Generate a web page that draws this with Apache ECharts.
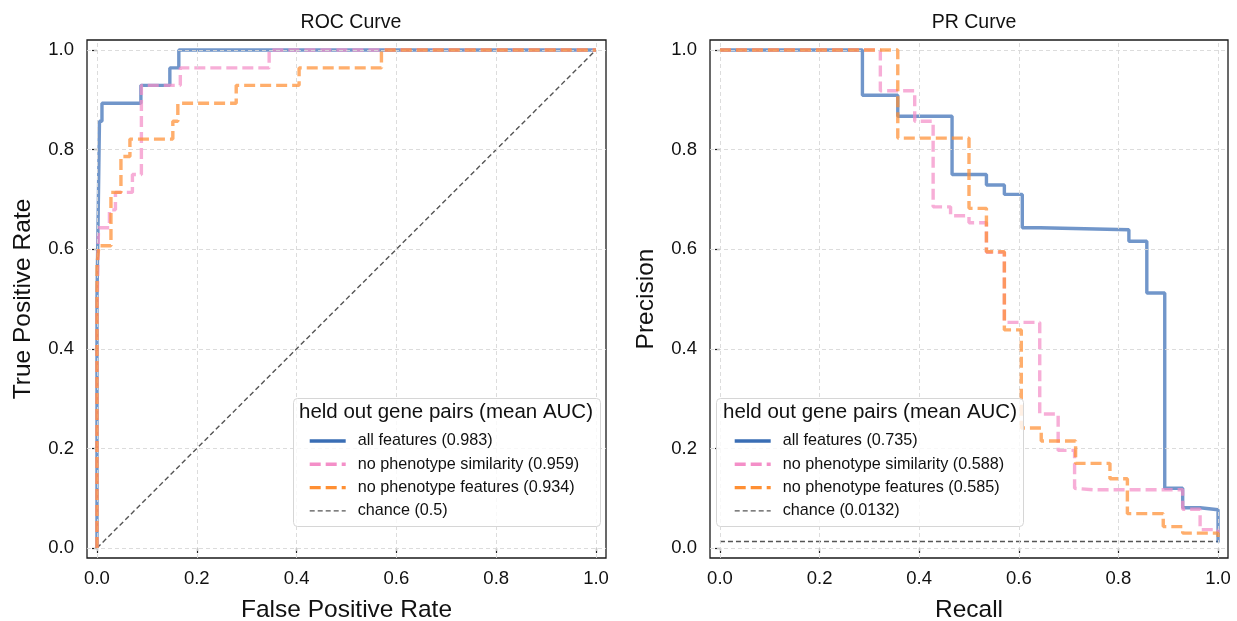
<!DOCTYPE html>
<html>
<head>
<meta charset="utf-8">
<script src="https://cdn.jsdelivr.net/npm/echarts@6/dist/echarts.min.js"></script>
<style>
  html, body { margin: 0; padding: 0; background: #fff; }
  #chart { width: 1237px; height: 621px; }
</style>
</head>
<body>
<div id="chart"></div>
<script>
// tick positions shared by both panels
const ticks = [0, 0.2, 0.4, 0.6, 0.8, 1.0];

// ROC curves (FPR, TPR)
const rocNames = [
  "all features (0.983)",
  "no phenotype similarity (0.959)",
  "no phenotype features (0.934)",
  "chance (0.5)",
];
const rocAll = [
  [0, 0], [0, 0.5], [0.002, 0.5], [0.002, 0.643], [0.005, 0.643], [0.005, 0.857],
  [0.01, 0.857], [0.01, 0.893], [0.088, 0.893], [0.088, 0.929], [0.146, 0.929],
  [0.146, 0.964], [0.164, 0.964], [0.164, 1.0], [1.0, 1.0],
];
const rocNoSim = [
  [0, 0], [0, 0.46], [0.003, 0.46], [0.003, 0.643], [0.025, 0.643], [0.025, 0.679],
  [0.037, 0.679], [0.037, 0.714], [0.071, 0.714], [0.071, 0.75], [0.089, 0.75],
  [0.089, 0.929], [0.167, 0.929], [0.167, 0.964], [0.345, 0.964], [0.345, 1.0], [1.0, 1.0],
];
const rocNoPheno = [
  [0, 0], [0, 0.57], [0.004, 0.57], [0.004, 0.607], [0.028, 0.607], [0.028, 0.714],
  [0.048, 0.714], [0.048, 0.786], [0.066, 0.786], [0.066, 0.821], [0.152, 0.821],
  [0.152, 0.857], [0.162, 0.857], [0.162, 0.893], [0.279, 0.893], [0.279, 0.929],
  [0.405, 0.929], [0.405, 0.964], [0.57, 0.964], [0.57, 1.0], [1.0, 1.0],
];
const rocChance = [[0, 0], [1, 1]];

// PR curves (recall, precision)
const prNames = [
  "all features (0.735)",
  "no phenotype similarity (0.588)",
  "no phenotype features (0.585)",
  "chance (0.0132)",
];
const prAll = [
  [0, 1], [0.286, 1], [0.286, 0.909], [0.357, 0.909], [0.357, 0.867], [0.466, 0.867],
  [0.466, 0.75], [0.535, 0.75], [0.535, 0.729], [0.571, 0.729], [0.571, 0.71],
  [0.607, 0.71], [0.607, 0.643], [0.643, 0.643], [0.643, 0.639], [0.821, 0.639],
  [0.821, 0.616], [0.857, 0.616], [0.857, 0.512], [0.893, 0.512], [0.893, 0.12],
  [0.929, 0.12], [0.929, 0.081], [0.964, 0.081], [0.964, 0.077], [1.0, 0.077], [1.0, 0.011],
];
const prNoSim = [
  [0, 1], [0.322, 1], [0.322, 0.918], [0.391, 0.918], [0.391, 0.857], [0.428, 0.857],
  [0.428, 0.685], [0.463, 0.685], [0.463, 0.667], [0.5, 0.667], [0.5, 0.653],
  [0.535, 0.653], [0.535, 0.594], [0.571, 0.594], [0.571, 0.453], [0.642, 0.453],
  [0.642, 0.269], [0.679, 0.269], [0.679, 0.196], [0.712, 0.196], [0.712, 0.12],
  [0.75, 0.117], [0.929, 0.117], [0.929, 0.078], [0.964, 0.078], [0.964, 0.037],
  [1.0, 0.037], [1.0, 0.03],
];
const prNoPheno = [
  [0, 1], [0.357, 1], [0.357, 0.823], [0.5, 0.823], [0.5, 0.682], [0.535, 0.682],
  [0.535, 0.595], [0.571, 0.595], [0.571, 0.438], [0.605, 0.438], [0.605, 0.241],
  [0.645, 0.241], [0.645, 0.215], [0.714, 0.215], [0.714, 0.17], [0.783, 0.17],
  [0.783, 0.139], [0.818, 0.139], [0.818, 0.069], [0.89, 0.069], [0.89, 0.043],
  [0.929, 0.043], [0.929, 0.03], [1.0, 0.03], [1.0, 0.022],
];
const prChance = [[0, 0.0132], [1, 0.0132]];

const colors = ["#3a6eb5", "#f48fc8", "#ff8f33", "#555555"];
const FONT = "Liberation Sans, Arial, Helvetica, sans-serif";
const DASH = [11, 5];
const CHANCE_DASH = [5, 3];

const Chart = echarts.init(document.getElementById("chart"));

const makeAxis = (gridIndex, name, nameGap, isY) => ({
  type: "value",
  gridIndex: gridIndex,
  min: -0.02,
  max: 1.02,
  name: name,
  nameLocation: "middle",
  nameGap: nameGap,
  nameTextStyle: { fontFamily: FONT, fontSize: 24.5, color: "#111" },
  axisLine: { show: false },
  axisTick: {
    show: true,
    inside: false,
    length: 5,
    customValues: ticks,
    lineStyle: { color: "#222", width: 1.2 },
  },
  axisLabel: {
    customValues: ticks,
    margin: isY ? 13 : 11,
    fontFamily: FONT,
    fontSize: 18.5,
    color: "#111",
    formatter: (v) => v.toFixed(1),
  },
  splitLine: { show: false },
});

// dashed grid lines drawn as markLines so they sit exactly on the ticks
const gridLines = (xi, yi) => ({
  type: "line",
  xAxisIndex: xi,
  yAxisIndex: yi,
  data: [],
  silent: true,
  z: 1,
  markLine: {
    silent: true,
    symbol: ["none", "none"],
    label: { show: false },
    lineStyle: { color: "#d8d8d8", type: [4, 3], width: 0.9 },
    data: ticks.map((t) => ({ xAxis: t })).concat(ticks.map((t) => ({ yAxis: t }))),
  },
});

const curve = (name, data, idx, xi, dashed) => ({
  name: name,
  type: "line",
  xAxisIndex: xi,
  yAxisIndex: xi,
  data: data,
  symbol: "none",
  clip: false,
  z: 3 + idx,
  lineStyle: {
    color: colors[idx],
    width: 3.4,
    opacity: 0.72,
    type: dashed ? DASH : "solid",
  },
  itemStyle: { color: colors[idx] },
});

const chanceLine = (name, data, xi) => ({
  name: name,
  type: "line",
  xAxisIndex: xi,
  yAxisIndex: xi,
  data: data,
  symbol: "none",
  z: 2,
  lineStyle: { color: colors[3], width: 1.4, type: CHANCE_DASH },
  itemStyle: { color: colors[3] },
});

// legend handles: opaque line, no marker
const legendData = (names) =>
  names.map((n, i) => ({
    name: n,
    lineStyle: {
      color: colors[i],
      opacity: 1,
      width: i === 3 ? 1.4 : 3.4,
      type: i === 0 ? "solid" : i === 3 ? CHANCE_DASH : DASH,
    },
    itemStyle: { opacity: 0 },
  }));

const legendBox = (x) => ({
  type: "rect",
  left: x,
  top: 398,
  z: 10,
  shape: { width: 307, height: 128, r: 4 },
  style: { fill: "rgba(255,255,255,0.82)", stroke: "#d6d6d6", lineWidth: 1 },
});

const legendTitle = (x) => ({
  type: "text",
  left: x,
  top: 402,
  z: 12,
  style: {
    text: "held out gene pairs (mean AUC)",
    font: "20.5px " + FONT,
    fill: "#111",
  },
});

const legendCfg = (names, x) => ({
  data: legendData(names),
  orient: "vertical",
  left: x,
  top: 433,
  padding: 0,
  itemWidth: 36,
  itemHeight: 16,
  itemGap: 7.3,
  z: 11,
  textStyle: { fontFamily: FONT, fontSize: 16.2, lineHeight: 16, color: "#111", padding: [0, 0, 0, 7] },
});

const gridCfg = (left, width) => ({
  left: left,
  top: 40,
  width: width,
  height: 518,
  show: true,
  borderColor: "#1a1a1a",
  borderWidth: 1.3,
  backgroundColor: "transparent",
  containLabel: false,
  outerBoundsMode: "none",
});

Chart.setOption({
  animation: false,
  title: [
    {
      text: "ROC Curve",
      left: 346,
      top: 8,
      textAlign: "center",
      textStyle: { fontFamily: FONT, fontSize: 19.5, fontWeight: "normal", color: "#111" },
    },
    {
      text: "PR Curve",
      left: 969,
      top: 8,
      textAlign: "center",
      textStyle: { fontFamily: FONT, fontSize: 19.5, fontWeight: "normal", color: "#111" },
    },
  ],
  grid: [gridCfg(87, 519), gridCfg(710, 518)],
  xAxis: [
    makeAxis(0, "False Positive Rate", 40, false),
    makeAxis(1, "Recall", 40, false),
  ],
  yAxis: [
    makeAxis(0, "True Positive Rate", 51, true),
    makeAxis(1, "Precision", 51, true),
  ],
  legend: [legendCfg(rocNames, 308), legendCfg(prNames, 733)],
  graphic: [legendBox(293), legendTitle(299), legendBox(716), legendTitle(723)],
  series: [
    gridLines(0, 0),
    gridLines(1, 1),
    chanceLine(rocNames[3], rocChance, 0),
    curve(rocNames[0], rocAll, 0, 0, false),
    curve(rocNames[1], rocNoSim, 1, 0, true),
    curve(rocNames[2], rocNoPheno, 2, 0, true),
    chanceLine(prNames[3], prChance, 1),
    curve(prNames[0], prAll, 0, 1, false),
    curve(prNames[1], prNoSim, 1, 1, true),
    curve(prNames[2], prNoPheno, 2, 1, true),
  ],
});
</script>
</body>
</html>
